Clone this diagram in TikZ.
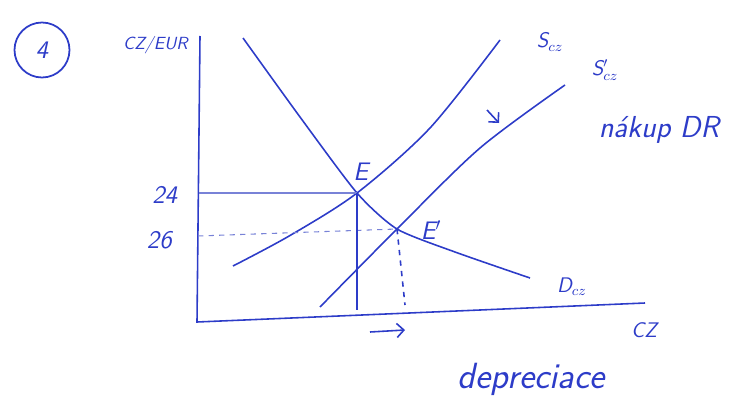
\documentclass[tikz,border=0pt]{standalone}
\usepackage{amsmath}
\usepackage{xcolor}
\usepackage{tikz}
\usetikzlibrary{arrows.meta,positioning}
\definecolor{pnblue}{RGB}{45,60,200}
\definecolor{pnpale}{RGB}{120,130,215}
\newcommand{\hw}[1]{\textsf{\textit{#1}}}

\begin{document}
\begin{tikzpicture}[x=1cm,y=1cm,
  curve/.style={pnblue,line width=0.9pt},
  guide/.style={pnpale,line width=0.6pt},
  lbl/.style={pnblue,font=\Large}]

\useasboundingbox (0,0) rectangle (14.96,7.96);

% task number
\node[draw=pnblue,line width=1pt,circle,minimum size=1.1cm,lbl] (num) at (0.84,6.96) {\hw{4}};

% axes
\coordinate (top) at (4.0,7.24);
\coordinate (orig) at (3.94,1.52);
\coordinate (xend) at (12.9,1.9);
\draw[curve] (top) -- (orig) -- (xend);
\node[lbl,font=\normalsize] (ylab) at (3.12,7.06) {\hw{CZ/EUR}};
\node[lbl,font=\large] (xlab) at (12.9,1.36) {\hw{CZ}};

% equilibria
\coordinate (E) at (7.14,4.1);
\coordinate (E2) at (7.94,3.38);

% demand and supply
\draw[curve] plot[smooth,tension=0.4] coordinates
  {(4.86,7.2) (6.0,5.62) (E) (E2) (9.1,2.92) (10.6,2.4)};
\draw[curve] plot[smooth,tension=0.5] coordinates
  {(4.66,2.64) (5.8,3.25) (E) (8.6,5.4) (10.0,7.16)};
\draw[curve] plot[smooth,tension=0.5] coordinates
  {(6.4,1.82) (E2) (9.6,5.0) (11.3,6.26)};

% guide lines
\draw[guide] (3.98,4.1) -- (E);
\draw[guide,dashed] (3.96,3.24) -- (E2);
\draw[curve] (E) -- (7.14,1.76);
\draw[curve,dashed] (E2) -- (8.1,1.86);

\node[lbl] (p1) at (3.3,4.06) {\hw{24}};
\node[lbl] (p2) at (3.2,3.16) {\hw{26}};
\node[lbl] (eA) at (7.24,4.52) {\hw{E}};
\node[lbl] (eB) at (8.62,3.36) {\hw{E$'$}};

\node[lbl,font=\large] (dlab) at (11.44,2.22) {\hw{D$_{cz}$}};
\node[lbl,font=\large] (slab) at (11.0,7.12) {\hw{S$_{cz}$}};
\node[lbl,font=\large] (s2lab) at (12.1,6.56) {\hw{S$'_{cz}$}};

% shift arrows
\draw[curve,-{Straight Barb[length=4pt]}] (9.74,5.76) -- (9.98,5.5);
\draw[curve,-{Straight Barb[length=4pt]}] (7.4,1.32) -- (8.1,1.36);

\node[lbl,font=\LARGE] (buy) at (13.2,5.36) {\hw{nákup DR}};
\node[lbl,font=\huge] (dep) at (10.64,0.38) {\hw{depreciace}};

\end{tikzpicture}
\end{document}
